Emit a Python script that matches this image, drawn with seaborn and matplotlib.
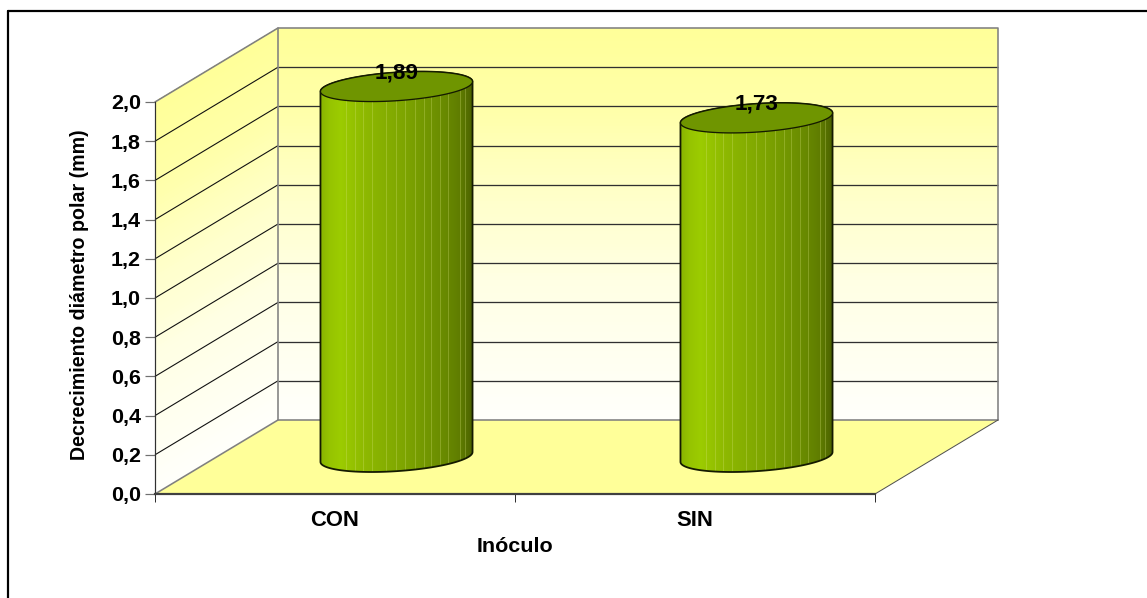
import numpy as np
import pandas as pd
import matplotlib
matplotlib.use("Agg")
import matplotlib.pyplot as plt
import seaborn as sns
from matplotlib.colors import to_rgb, LinearSegmentedColormap
from matplotlib.lines import Line2D
from matplotlib.patches import Polygon

categories = ["CON", "SIN"]
values = [1.89, 1.73]
value_labels = ["1,89", "1,73"]
y_ticks = [0.0, 0.2, 0.4, 0.6, 0.8, 1.0, 1.2, 1.4, 1.6, 1.8, 2.0]
x_title = "Inóculo"
y_title = "Decrecimiento diámetro polar (mm)"

W, H, DPI = 1147, 598, 100
PX = 72 / DPI
L, R, T, B = 155, 875, 102, 494
sx = (R - L) / 2          # px per category
sy = (B - T) / 2          # px per unit
DX, DY = 123 / sx, 74 / sy

sns.set_theme(style="white")
plt.rcParams["font.family"] = ["Liberation Sans", "DejaVu Sans"]
plt.rcParams["font.weight"] = "bold"

fig = plt.figure(figsize=(W / DPI, H / DPI), dpi=DPI, facecolor="white")
ax = fig.add_axes([L / W, 1 - B / H, (R - L) / W, (B - T) / H])
ax.patch.set_visible(False)

df = pd.DataFrame({"pos": range(len(categories)), "valor": values})
sns.barplot(data=df, x="pos", y="valor", width=152 / sx, color="#80A800",
            saturation=1, native_scale=True, ax=ax, zorder=5)
x0, x1, y0, y1 = -0.5, 1.5, 0.0, 2.0
ax.set_xlim(x0, x1)
ax.set_ylim(y0, y1)

# walls
wall_cmap = LinearSegmentedColormap.from_list(
    "wall", [(0, "#FFFFFB"), (0.35, "#FFFFE4"), (0.6, "#FFFFC6"), (0.8, "#FFFFA8"), (1, "#FFFF99")])
vv = np.linspace(y0, y1, 121)
vc = ((vv[:-1] + vv[1:]) / 2)[:, None] / y1
# back wall
Xb, Yb = np.meshgrid([x0 + DX, x1 + DX], vv + DY)
ax.pcolormesh(Xb, Yb, vc, cmap=wall_cmap, vmin=0, vmax=1, clip_on=False, zorder=1)
# side wall
dd = np.array([0.0, 1.0])
Xs = x0 + dd[None, :] * DX * np.ones((len(vv), 2))
Ys = vv[:, None] + dd[None, :] * DY
ax.pcolormesh(Xs, Ys, vc, cmap=wall_cmap, vmin=0, vmax=1, clip_on=False, zorder=1)

# floor
ax.add_patch(Polygon([(x0, y0), (x1, y0), (x1 + DX, DY), (x0 + DX, DY)], closed=True,
                     facecolor="#FFFF99", edgecolor="none", clip_on=False, zorder=2))

# grid lines
for v in y_ticks[1:-1]:
    ax.plot([x0, x0 + DX], [v, v + DY], color="#101010", lw=1.1 * PX,
            clip_on=False, zorder=3, solid_capstyle="butt")
    ax.plot([x0 + DX, x1 + DX], [v + DY, v + DY], color="#303030", lw=1.3 * PX,
            clip_on=False, zorder=3, solid_capstyle="butt")

# wall edges
edge = dict(color="#808080", lw=1.6 * PX, clip_on=False, zorder=4)
ax.plot([x0, x0 + DX, x1 + DX, x1 + DX], [y1, y1 + DY, y1 + DY, DY], **edge)
ax.plot([x0 + DX, x0 + DX], [DY, y1 + DY], **edge)
ax.plot([x0, x0 + DX, x1 + DX], [y0, DY, DY], **edge)
ax.plot([x1, x1 + DX], [y0, DY], color="#505050", lw=1 * PX, clip_on=False, zorder=4)

# cylinder texture
anchors_f = [0, 0.06, 0.13, 0.30, 0.55, 0.80, 0.92, 1.0]
anchors_c = ["#88B400", "#96C400", "#9CCC00", "#8DB800", "#7EA500", "#6A8C00", "#5F7C00", "#4C6200"]
n_col = 304
fr = (np.arange(n_col) + 0.5) / n_col
rgb = np.array([to_rgb(c) for c in anchors_c])
tex = np.stack([np.interp(fr, anchors_f, rgb[:, i]) for i in range(3)], axis=1)
stripes = [618, 643, 668, 695, 737, 767, 795, 823, 850, 873, 898, 922, 958, 975]
for s in stripes:
    k = int((s - 540) / (997 - 540) * n_col)
    tex[k:k + 2] = tex[k:k + 2] * 0.72 + np.array([0.85, 0.9, 0.5]) * 0.28
tex = tex[None, :, :]

ux, vx, vy = 71.8 / sx, 25.0 / sx, 15.0 / sy
t0 = np.arctan2(vx, ux)


def ell(cx, cy, t):
    return np.column_stack([cx + np.cos(t) * ux + np.sin(t) * vx, cy + np.sin(t) * vy])


low = np.linspace(t0 + np.pi, t0 + 2 * np.pi, 80)
up = np.linspace(t0, t0 + np.pi, 80)
full = np.linspace(0, 2 * np.pi, 160)

bars = list(ax.patches)[:len(values)]
for bar, val, lab in zip(bars, values, value_labels):
    cx = bar.get_x() + bar.get_width() / 2 + DX / 2
    base = DY / 2
    top = base + bar.get_height()
    half = bar.get_width() / 2
    body_xy = np.vstack([ell(cx, base, low), ell(cx, top, up)])
    body = Polygon(body_xy, closed=True, facecolor="none", edgecolor="#141a00",
                   lw=1.8 * PX, clip_on=False, zorder=7)
    ax.add_patch(body)
    bar.set_x(cx - half)
    bar.set_y(base)
    bar.set_edgecolor("none")
    bar.set_clip_path(Polygon(body_xy, closed=True, transform=ax.transData))
    bar.set_clip_box(fig.bbox)
    im = ax.imshow(tex, extent=(cx - half, cx + half, base - vy * 1.2, top + vy * 1.2),
                   aspect="auto", interpolation="nearest", zorder=6)
    im.set_clip_path(Polygon(body_xy, closed=True, transform=ax.transData))
    im.set_clip_box(fig.bbox)
    ax.add_patch(Polygon(ell(cx, top, full), closed=True, facecolor="#6F9500", edgecolor="#141a00",
                         lw=1.3 * PX, clip_on=False, zorder=8))
    ax.text(cx, top + 13.5 / sy, lab, ha="center", va="center", fontsize=22.5 * PX,
            fontweight="bold", color="black", zorder=9, clip_on=False)

ax.set_xlim(x0, x1)
ax.set_ylim(y0, y1)

# axes
for s in ("top", "right"):
    ax.spines[s].set_visible(False)
ax.spines["left"].set_color("#303030")
ax.spines["left"].set_linewidth(1.2 * PX)
ax.spines["bottom"].set_color("#404040")
ax.spines["bottom"].set_linewidth(2.2 * PX)
ax.spines["left"].set_zorder(10)
ax.spines["bottom"].set_zorder(10)

ax.set_yticks(y_ticks)
ax.set_yticklabels([f"{v:.1f}".replace(".", ",") for v in y_ticks])
ax.tick_params(axis="y", left=True, length=10 * PX, width=1.2 * PX, color="#707070",
               pad=4 * PX, labelsize=21.5 * PX, labelcolor="black")
ax.set_xticks([x0, (x0 + x1) / 2, x1], ["", "", ""])
ax.tick_params(axis="x", which="major", bottom=True, length=8 * PX, width=1 * PX, color="#303030")
ax.set_xticks([0, 1], categories, minor=True)
ax.tick_params(axis="x", which="minor", bottom=False, length=0, pad=16 * PX,
               labelsize=22 * PX, labelcolor="black")
ax.set_xlabel(x_title, fontsize=21.5 * PX, fontweight="bold", color="black", va="center")
ax.xaxis.set_label_coords(0.5, -(547 - B) / (B - T))
ax.set_ylabel(y_title, fontsize=19.6 * PX, fontweight="bold", color="black", va="center")
ax.yaxis.set_label_coords((80 - L) / (R - L), (B - 295) / (B - T))

# outer frame (top and left only)
fig.add_artist(Line2D([8 / W, 1], [1 - 11 / H, 1 - 11 / H], color="black", lw=2.2 * PX))
fig.add_artist(Line2D([8 / W, 8 / W], [1 - 11 / H, 0], color="black", lw=2.2 * PX))

fig.savefig("out.png", dpi=DPI, facecolor="white")
